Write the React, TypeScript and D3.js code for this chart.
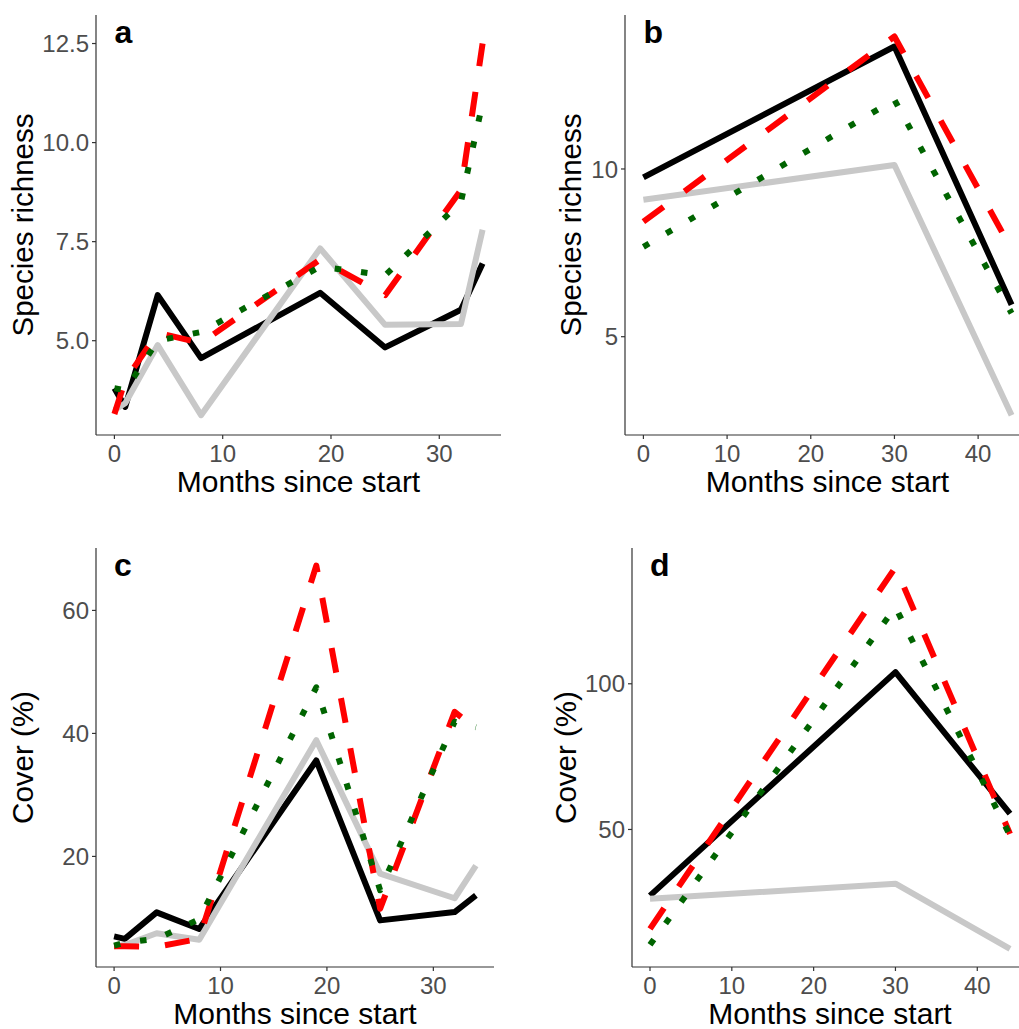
import React from 'react';
import * as d3 from 'd3';

// ---- data ----
const monthsAC = [0, 1, 4, 8, 19, 25, 32, 34];
const monthsBD = [0, 30, 44];

// panel a: species richness
const aBlack = [3.8, 3.33, 6.15, 4.56, 6.21, 4.83, 5.78, 6.95];
const aGrey = [3.25, 3.42, 4.89, 3.12, 7.33, 5.4, 5.42, 7.8];
const aRed = [3.15, 4.0, 5.2, 4.94, 7.05, 6.15, 8.8, 12.5];
const aGreen = [3.8, 3.75, 5.0, 5.22, 6.87, 6.65, 8.5, 11.0];

// panel b: species richness
const bBlack = [9.75, 13.65, 5.95];
const bGrey = [9.08, 10.12, 2.66];
const bRed = [8.43, 13.95, 7.6];
const bGreen = [7.68, 12.06, 5.7];

// panel c: cover (%)
const cBlack = [7.0, 6.6, 10.9, 8.2, 35.6, 9.6, 10.95, 13.66];
const cGrey = [5.4, 5.6, 7.5, 6.45, 38.9, 17.2, 13.2, 18.5];
const cRed = [5.4, 5.4, 5.3, 6.6, 67.3, 11.5, 43.5, 40.8];
const cGreen = [5.5, 6.0, 6.6, 9.8, 47.5, 14.5, 41.9, 41.0];

// panel d: cover (%)
const dBlack = [27.3, 104, 55.4];
const dGrey = [26.2, 31.4, 9.0];
const dRed = [15.9, 140, 48.5];
const dGreen = [10.4, 126.3, 47.9];

// ---- tick labels / titles ----
const xTicksAC = [0, 10, 20, 30];
const xTicksBD = [0, 10, 20, 30, 40];
const yTicksA = [5, 7.5, 10, 12.5];
const yTicksB = [5, 10];
const yTicksC = [20, 40, 60];
const yTicksD = [50, 100];
const xTitle = 'Months since start';
const yTitleRichness = 'Species richness';
const yTitleCover = 'Cover (%)';

const seriesStyles = [
  { color: '#000000', dash: null },
  { color: '#C8C8C8', dash: null },
  { color: '#FF0000', dash: '25 26' },
  { color: '#006400', dash: '6.5 20' },
];

const FONT = '"Liberation Sans", Arial, Helvetica, sans-serif';

const panels = [
  {
    id: 'a', months: monthsAC, series: [aBlack, aGrey, aRed, aGreen],
    xDomain: [-1.7, 35.7], yDomain: [2.62, 13.22], xTicks: xTicksAC, yTicks: yTicksA,
    yFmt: d3.format('.1f'), yTitle: yTitleRichness,
    rect: { l: 96, t: 15, r: 501, b: 435 }, yTitleX: 33,
  },
  {
    id: 'b', months: monthsBD, series: [bBlack, bGrey, bRed, bGreen],
    xDomain: [-2.2, 46.2], yDomain: [2.07, 14.59], xTicks: xTicksBD, yTicks: yTicksB,
    yFmt: d3.format('d'), yTitle: yTitleRichness,
    rect: { l: 625, t: 15, r: 1030, b: 435 }, yTitleX: 581,
  },
  {
    id: 'c', months: monthsAC, series: [cBlack, cGrey, cRed, cGreen],
    xDomain: [-1.7, 35.7], yDomain: [2.02, 70.15], xTicks: xTicksAC, yTicks: yTicksC,
    yFmt: d3.format('d'), yTitle: yTitleCover,
    rect: { l: 96, t: 548, r: 494, b: 967 }, yTitleX: 33,
  },
  {
    id: 'd', months: monthsBD, series: [dBlack, dGrey, dRed, dGreen],
    xDomain: [-2.2, 46.2], yDomain: [2.8, 146.6], xTicks: xTicksBD, yTicks: yTicksD,
    yFmt: d3.format('d'), yTitle: yTitleCover,
    rect: { l: 632, t: 548, r: 1028, b: 967 }, yTitleX: 576,
  },
];

function Panel({ p }: { p: any }) {
  const { l, t, r, b } = p.rect;
  const x = d3.scaleLinear().domain(p.xDomain).range([l, r]);
  const y = d3.scaleLinear().domain(p.yDomain).range([b, t]);
  const line = d3
    .line<[number, number]>()
    .x((d) => x(d[0]))
    .y((d) => y(d[1]));
  const clipId = `clip-${p.id}`;
  return (
    <g>
      <defs>
        <clipPath id={clipId}>
          <rect x={l} y={t} width={r - l} height={b - t} />
        </clipPath>
      </defs>
      <g clipPath={`url(#${clipId})`}>
        {p.series.map((vals: number[], i: number) => {
          const st = seriesStyles[i];
          const pts = p.months.map((m: number, k: number) => [m, vals[k]] as [number, number]);
          return (
            <path
              key={i}
              d={line(pts) || ''}
              fill="none"
              stroke={st.color}
              strokeWidth={6}
              strokeLinecap="butt"
              strokeLinejoin="round"
              strokeDasharray={st.dash || undefined}
            />
          );
        })}
      </g>
      {/* axes */}
      <line x1={l} x2={l} y1={t} y2={b} stroke="#333" strokeWidth={1.2} />
      <line x1={l} x2={r} y1={b} y2={b} stroke="#333" strokeWidth={1.2} />
      {p.xTicks.map((v: number) => (
        <g key={`x${v}`}>
          <line x1={x(v)} x2={x(v)} y1={b} y2={b + 4} stroke="#333" strokeWidth={1.2} />
          <text x={x(v)} y={b + 27} textAnchor="middle" fontSize={24} fill="#4D4D4D" fontFamily={FONT}>
            {v}
          </text>
        </g>
      ))}
      {p.yTicks.map((v: number) => (
        <g key={`y${v}`}>
          <line x1={l - 4} x2={l} y1={y(v)} y2={y(v)} stroke="#333" strokeWidth={1.2} />
          <text x={l - 7} y={y(v)} dy="0.36em" textAnchor="end" fontSize={24} fill="#4D4D4D" fontFamily={FONT}>
            {p.yFmt(v)}
          </text>
        </g>
      ))}
      <text x={(l + r) / 2} y={b + 57} textAnchor="middle" fontSize={30} fill="#000" fontFamily={FONT}>
        {xTitle}
      </text>
      <text
        transform={`translate(${p.yTitleX},${(t + b) / 2}) rotate(-90)`}
        textAnchor="middle"
        fontSize={29.5}
        fill="#000"
        fontFamily={FONT}
      >
        {p.yTitle}
      </text>
      <text x={x(0)} y={t + 28} fontSize={32} fontWeight="bold" fill="#000" fontFamily={FONT}>
        {p.id}
      </text>
    </g>
  );
}

export default function App() {
  return (
    <svg
      width={1019}
      height={1029}
      viewBox="0 0 1019 1029"
      style={{ position: 'absolute', left: 0, top: 0, background: '#fff' }}
    >
      <rect x={0} y={0} width={1019} height={1029} fill="#fff" />
      {panels.map((p) => (
        <Panel key={p.id} p={p} />
      ))}
    </svg>
  );
}
